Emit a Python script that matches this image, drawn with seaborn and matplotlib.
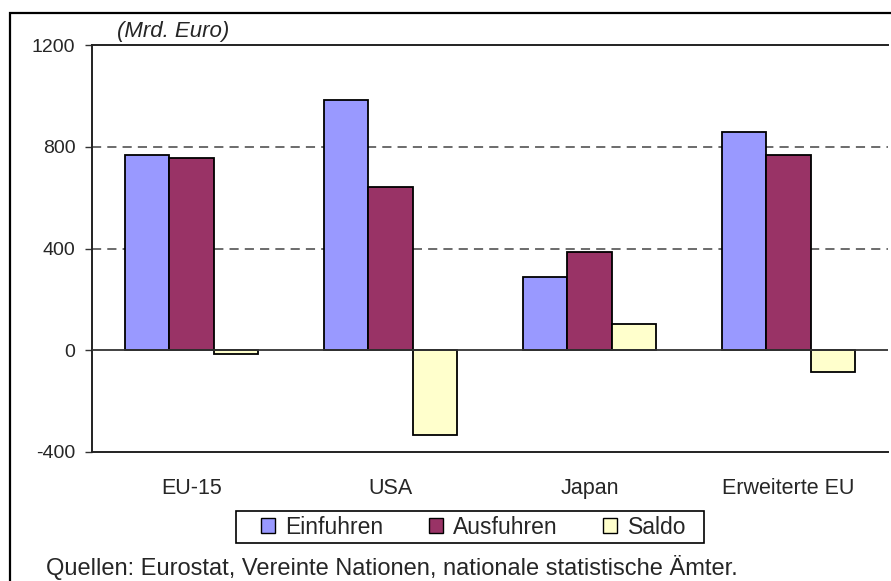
import matplotlib
matplotlib.use("Agg")
import matplotlib.pyplot as plt
import seaborn as sns
import pandas as pd
from matplotlib.patches import Rectangle, Patch

categories = ["EU-15", "USA", "Japan", "Erweiterte EU"]
series = ["Einfuhren", "Ausfuhren", "Saldo"]
einfuhren = [769, 983, 286, 857]
ausfuhren = [756, 642, 385, 769]
saldo = [-15, -335, 103, -85]
yticks = [-400, 0, 400, 800, 1200]
unit_label = "(Mrd. Euro)"
source = "Quellen: Eurostat, Vereinte Nationen, nationale statistische Ämter."
colors = {"Einfuhren": "#9999FF", "Ausfuhren": "#993366", "Saldo": "#FFFFCC"}

rows = []
for name, vals in zip(series, [einfuhren, ausfuhren, saldo]):
    for c, v in zip(categories, vals):
        rows.append({"Region": c, "Serie": name, "Wert": v})
df = pd.DataFrame(rows)

sns.set_theme(style="white")
plt.rcParams["font.family"] = ["Liberation Sans", "DejaVu Sans"]

fig = plt.figure(figsize=(8.91, 5.81), dpi=100)
ax = fig.add_axes([92/891, 1-452/581, 796/891, 407/581])

sns.barplot(data=df, x="Region", y="Wert", hue="Serie", order=categories,
            hue_order=series, palette=colors, width=0.67, ax=ax,
            edgecolor="black", linewidth=1.3, saturation=1, legend=False, zorder=3)

ax.set_xlim(-0.5, 3.5)
ax.set_ylim(-400, 1200)
ax.set_yticks(yticks)
ax.set_yticklabels([str(t) for t in yticks], fontsize=14)
ax.tick_params(axis="y", direction="out", length=5, width=1, color="#333333", pad=7, left=True)
ax.tick_params(axis="x", length=0, pad=19, labelsize=15.5)
ax.set_xlabel("")
ax.set_ylabel("")
for y in [400, 800]:
    ax.axhline(y, color="#444444", linestyle=(0, (6, 4)), linewidth=1.1, zorder=1)
ax.axhline(0, color="#333333", linewidth=1.3, zorder=4)

for s in ["left", "top", "bottom"]:
    ax.spines[s].set_visible(True)
    ax.spines[s].set_color("#222222")
    ax.spines[s].set_linewidth(1.4)
ax.spines["right"].set_visible(False)

fig.text(117/891, 1-31/581, unit_label, fontsize=16, style="italic", va="center", ha="left")

frame = Rectangle((10/891, -0.05), 1.2, 1-13/581+0.05, transform=fig.transFigure,
                  fill=False, edgecolor="black", linewidth=1.6)
fig.patches.append(frame)

legbox = Rectangle((236/891, 1-543/581), (704-236)/891, 32/581, transform=fig.transFigure,
                   fill=True, facecolor="white", edgecolor="black", linewidth=1.2)
fig.patches.append(legbox)

handles = [Patch(facecolor=colors[s], edgecolor="black", linewidth=1.0) for s in series]
leg = fig.legend(handles, series, loc="center", bbox_to_anchor=(473.5/891, 1-527/581), ncol=3,
                 frameon=False, fontsize=16.5, handlelength=0.6, handleheight=0.6,
                 handletextpad=0.45, columnspacing=2.0, borderpad=0, borderaxespad=0)

fig.text(46/891, 1-567/581, source, fontsize=17, va="center", ha="left")

fig.savefig("out.png", dpi=100)
